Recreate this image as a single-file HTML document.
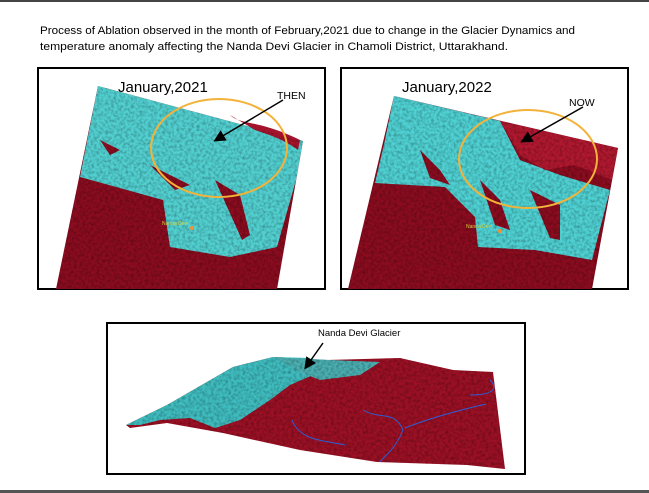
<!DOCTYPE html>
<html><head><meta charset="utf-8"><style>
html,body{margin:0;padding:0;background:#fff;}
body{width:649px;height:493px;position:relative;overflow:hidden;font-family:"Liberation Sans",sans-serif;}
</style></head><body>
<svg width="649" height="493" viewBox="0 0 649 493" xmlns="http://www.w3.org/2000/svg" style="position:absolute;left:0;top:0">
<defs>
<filter id="tx" x="0" y="0" width="100%" height="100%">
<feTurbulence type="fractalNoise" baseFrequency="0.35" numOctaves="2" seed="3" result="n"/>
<feColorMatrix in="n" type="matrix" values="0 0 0 0 0  0 0 0 0 0  0 0 0 0 0  0 0 0 -1.6 1.0" result="a"/>
<feComposite in="a" in2="SourceGraphic" operator="in"/>
</filter>
<marker id="ah" markerWidth="8" markerHeight="8" refX="6" refY="4" orient="auto"><path d="M0,0 L8,4 L0,8 z" fill="#000"/></marker>
</defs>
<rect x="0" y="0" width="649" height="2" fill="#444"/>
<rect x="0" y="490" width="649" height="3" fill="#555"/>
<text x="40" y="34" font-size="11" textLength="535" lengthAdjust="spacingAndGlyphs" fill="#000">Process of Ablation observed in the month of February,2021 due to change in the Glacier Dynamics and</text>
<text x="40" y="50" font-size="11" textLength="468" lengthAdjust="spacingAndGlyphs" fill="#000">temperature anomaly affecting the Nanda Devi Glacier in Chamoli District, Uttarakhand.</text>

<!-- left panel -->
<rect x="38" y="68" width="287" height="221" fill="#fff" stroke="#000" stroke-width="2"/>
<polygon points="98,86 303,141 277,289 56,289" fill="#8a0c1f"/>
<polygon points="98,86 303,141 296,180 277,247 230,257 170,247 163,200 80,177" fill="#52cfd0"/>
<path d="M230,115 C240,125 260,120 300,140 L298,150 C285,140 270,135 255,130 Z" fill="#a3142c"/>
<path d="M150,165 L170,175 L190,185 L175,190 Z M215,180 L240,195 L250,235 L242,240 Z M100,140 L120,150 L110,155Z" fill="#8a0c1f"/>
<polygon points="98,86 303,141 277,289 56,289" fill="#000" filter="url(#tx)" opacity="0.35"/>
<ellipse cx="219" cy="148" rx="68" ry="49" fill="none" stroke="#f3b23a" stroke-width="2"/>
<text x="118" y="92" font-size="15" fill="#000">January,2021</text>
<text x="277" y="99" font-size="10.5" fill="#000">THEN</text>
<line x1="283" y1="100" x2="216" y2="140" stroke="#000" stroke-width="1.5" marker-end="url(#ah)"/>
<circle cx="192" cy="228" r="2" fill="#f39030"/>
<text x="162" y="225" font-size="5" fill="#d8d040">Nanda Devi</text>

<!-- right panel -->
<rect x="341" y="68" width="287" height="221" fill="#fff" stroke="#000" stroke-width="2"/>
<polygon points="394,96 618,148 592,289 348,289" fill="#8a0c1f"/>
<polygon points="394,96 500,121 520,160 560,175 610,190 592,260 535,250 478,247 475,217 445,187 375,183 385,140" fill="#4fd0d2"/>
<path d="M500,121 L618,148 L612,180 L575,165 L545,170 L520,155 Z" fill="#b0182f"/>
<path d="M420,150 L440,170 L450,185 L430,178 Z M480,180 L500,200 L510,230 L495,225 Z M530,190 L560,205 L560,240 L550,238Z" fill="#8a0c1f"/>
<polygon points="394,96 618,148 592,289 348,289" fill="#000" filter="url(#tx)" opacity="0.35"/>
<ellipse cx="528" cy="159" rx="69" ry="49" fill="none" stroke="#f3b23a" stroke-width="2"/>
<text x="402" y="92" font-size="15" fill="#000">January,2022</text>
<text x="569" y="106" font-size="10.5" fill="#000">NOW</text>
<line x1="583" y1="107" x2="523" y2="141" stroke="#000" stroke-width="1.5" marker-end="url(#ah)"/>
<circle cx="500" cy="231" r="2" fill="#f39030"/>
<text x="466" y="228" font-size="5" fill="#d8d040">Nanda Devi</text>

<!-- bottom panel -->
<rect x="107" y="323" width="418" height="151" fill="#fff" stroke="#000" stroke-width="2"/>
<polygon points="126,425 167,405 233,367 273,357 327,360 400,358 453,370 493,372 505,469 467,465 377,462 300,450 223,433 167,423 130,428" fill="#9a1024"/>
<polygon points="126,425 167,405 233,367 273,357 310,358 320,372 290,385 270,400 240,420 215,428 190,418 160,420 140,425" fill="#3fbcbf"/>
<polygon points="273,357 330,360 380,362 360,375 320,380 300,372" fill="#4aaeb0"/>
<polygon points="126,425 167,405 233,367 273,357 327,360 400,358 453,370 493,372 505,469 467,465 377,462 300,450 223,433 167,423 130,428" fill="#000" filter="url(#tx)" opacity="0.35"/>
<path d="M292,420 C300,440 320,440 345,445 M363,410 C380,420 395,410 403,430 C395,450 385,455 380,462 M405,428 C430,418 460,410 486,404 M490,380 C500,390 490,395 470,395" fill="none" stroke="#2a5fd8" stroke-width="1"/>
<text x="318" y="336" font-size="9.5" fill="#000">Nanda Devi Glacier</text>
<line x1="323" y1="343" x2="306" y2="367" stroke="#000" stroke-width="1.5" marker-end="url(#ah)"/>
</svg>
</body></html>
